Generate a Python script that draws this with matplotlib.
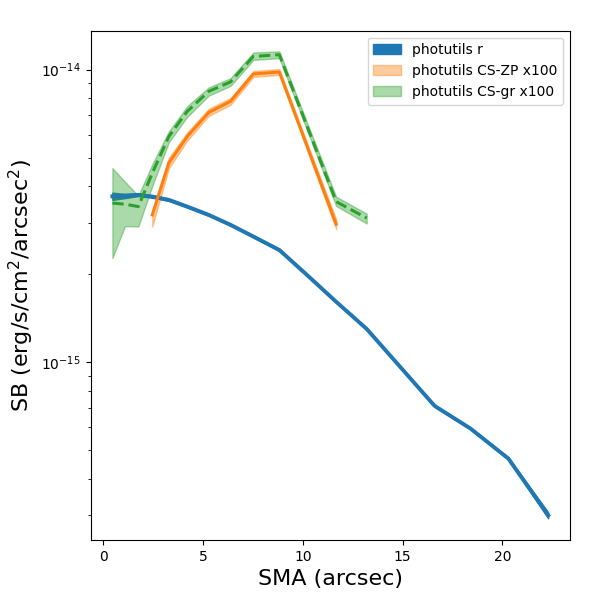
import numpy as np
import matplotlib
matplotlib.use('Agg')
import matplotlib.pyplot as plt

# photutils r profile
sma_r = [0.45, 1.08, 1.75, 2.45, 3.28, 4.2, 5.28, 6.37, 7.52, 8.82, 10.2, 11.67,
         13.2, 14.9, 16.6, 18.4, 20.3, 22.3]
sb_r = [3.69e-15, 3.71e-15, 3.735e-15, 3.685e-15, 3.59e-15, 3.405e-15, 3.19e-15,
        2.95e-15, 2.69e-15, 2.42e-15, 1.99e-15, 1.61e-15, 1.30e-15, 9.61e-16,
        7.10e-16, 5.94e-16, 4.69e-16, 3.00e-16]
sb_r_lo = [3.59e-15, 3.64e-15, 3.70e-15, 3.65e-15, 3.56e-15, 3.38e-15, 3.165e-15,
           2.93e-15, 2.67e-15, 2.40e-15, 1.975e-15, 1.60e-15, 1.29e-15, 9.55e-16,
           7.05e-16, 5.90e-16, 4.65e-16, 2.93e-16]
sb_r_hi = [3.80e-15, 3.76e-15, 3.77e-15, 3.72e-15, 3.62e-15, 3.43e-15, 3.215e-15,
           2.97e-15, 2.71e-15, 2.44e-15, 2.005e-15, 1.62e-15, 1.31e-15, 9.67e-16,
           7.15e-16, 5.98e-16, 4.73e-16, 3.07e-16]

# CS-ZP x100
sma_zp = [2.45, 3.28, 4.2, 5.28, 6.37, 7.52, 8.82, 10.2, 11.67]
sb_zp = [3.19e-15, 4.80e-15, 5.91e-15, 7.14e-15, 7.79e-15, 9.67e-15, 9.82e-15,
         5.50e-15, 2.965e-15]
sb_zp_lo = [2.91e-15, 4.60e-15, 5.72e-15, 6.95e-15, 7.58e-15, 9.45e-15, 9.60e-15,
            5.35e-15, 2.85e-15]
sb_zp_hi = [3.30e-15, 5.00e-15, 6.10e-15, 7.35e-15, 8.00e-15, 9.90e-15, 10.05e-15,
            5.65e-15, 3.08e-15]

# CS-gr x100
sma_gr = [0.45, 1.08, 1.75, 2.45, 3.28, 4.2, 5.28, 6.37, 7.52, 8.82, 10.2, 11.67, 13.2]
sb_gr = [3.50e-15, 3.47e-15, 3.405e-15, 4.43e-15, 5.91e-15, 7.20e-15, 8.43e-15,
         9.08e-15, 1.11e-14, 1.125e-14, 6.43e-15, 3.54e-15, 3.11e-15]
sb_gr_lo = [2.27e-15, 2.92e-15, 2.91e-15, 4.00e-15, 5.65e-15, 6.90e-15, 8.15e-15,
            8.80e-15, 1.08e-14, 1.095e-14, 6.25e-15, 3.42e-15, 2.98e-15]
sb_gr_hi = [4.61e-15, 4.14e-15, 3.71e-15, 4.75e-15, 6.15e-15, 7.50e-15, 8.70e-15,
            9.35e-15, 1.145e-14, 1.155e-14, 6.62e-15, 3.68e-15, 3.22e-15]

fig, ax = plt.subplots(figsize=(6, 6), dpi=100)
fig.subplots_adjust(left=0.151, right=0.95, bottom=0.1, top=0.949)

ax.fill_between(sma_r, sb_r_lo, sb_r_hi, color='C0', alpha=1.0, label='photutils r')
ax.plot(sma_r, sb_r, color='C0', lw=2.8)

ax.fill_between(sma_zp, sb_zp_lo, sb_zp_hi, color='C1', alpha=0.4, label='photutils CS-ZP x100')
ax.plot(sma_zp, sb_zp, color='C1', lw=2.2)

ax.fill_between(sma_gr, sb_gr_lo, sb_gr_hi, color='C2', alpha=0.4, label='photutils CS-gr x100')
ax.plot(sma_gr, sb_gr, color='C2', lw=2.2, ls='--')

ax.set_yscale('log')
ax.set_ylim(2.47e-16, 1.36e-14)
ax.set_xlabel('SMA (arcsec)', fontsize=16)
ax.set_ylabel('SB (erg/s/cm$^2$/arcsec$^2$)', fontsize=16)
ax.legend(loc='upper right')

fig.savefig('out.png', dpi=100)
